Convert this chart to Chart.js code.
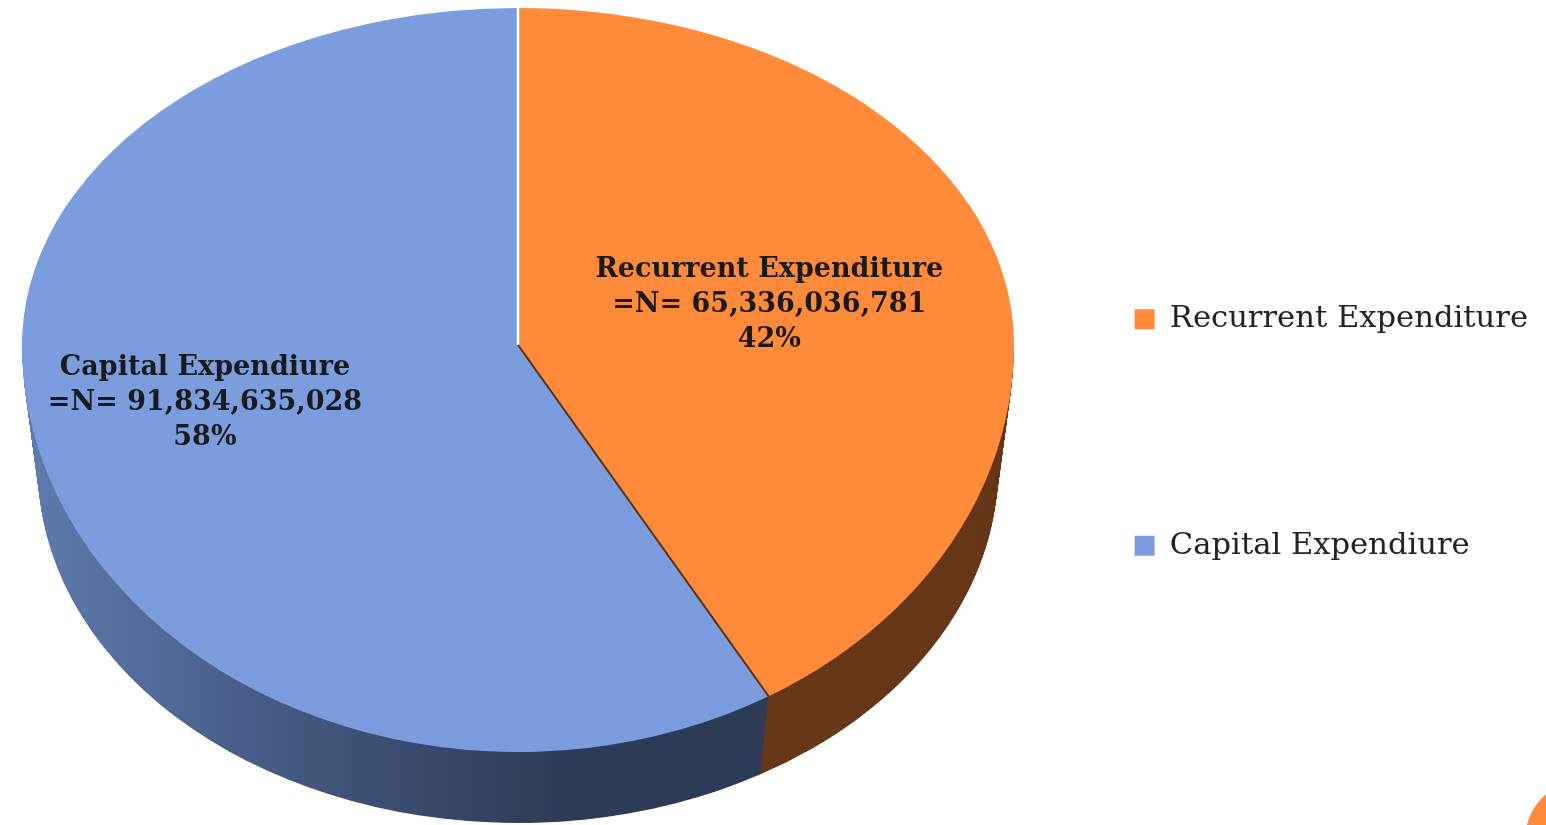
<!DOCTYPE html>
<html>
<head>
<meta charset="utf-8">
<script src="https://cdn.jsdelivr.net/npm/chart.js@4.4.1/dist/chart.umd.min.js"></script>
<style>
  html, body { margin: 0; padding: 0; background: #ffffff; overflow: hidden; }
  #wrap { width: 1546px; height: 825px; }
</style>
</head>
<body>
<div id="wrap"><canvas id="c" width="1546" height="825"></canvas></div>
<script>
// Expenditure split (Naira)
const categories = ['Recurrent Expenditure', 'Capital Expendiure'];
const amounts = [65336036781, 91834635028];
const faceColors = ['#fe8a3a', '#7b9cdd'];

// Derived label text
const total = amounts.reduce((a, b) => a + b, 0);
const amountText = amounts.map(v => '=N= ' + v.toLocaleString('en-US'));
const percentText = amounts.map(v => Math.round(v / total * 100) + '%');

// Tilted-disc geometry for the 3D look
const disc = {
  cx: 518, cy: 345,          // apex of the slices
  rx: 496,                   // horizontal radius of the top face
  ryBack: 337, ryFront: 407, // far / near half heights of the top face
  base: { cy: 468, rx: 480, ry: 355 }, // bottom rim ellipse
  layers: 100
};
const lerp = (a, b, t) => a + (b - a) * t;

function sideFill(ctx, k) {
  if (k === 0) return '#67381a';
  const g = ctx.createLinearGradient(22, 0, 560, 0);
  g.addColorStop(0, '#5f7caf');
  g.addColorStop(0.5, '#44587f');
  g.addColorStop(1, '#2e3b57');
  return g;
}

const pie3dPlugin = {
  id: 'pie3d',
  beforeDatasetsDraw(chart) {
    const ctx = chart.ctx;
    const W = chart.width, H = chart.height;
    const arcs = chart.getDatasetMeta(0).data;
    const fills = arcs.map((_, k) => sideFill(ctx, k));

    // walls: stacked rim slices from the bottom up
    for (let i = disc.layers; i >= 1; i--) {
      const t = i / disc.layers;
      const cy = lerp(disc.cy, disc.base.cy, t);
      const rx = lerp(disc.rx, disc.base.rx, t);
      const ry = lerp(disc.ryFront, disc.base.ry, t);
      ctx.save();
      ctx.beginPath();
      ctx.rect(0, cy, W, H - cy);
      ctx.clip();
      arcs.forEach((arc, k) => {
        const { startAngle, endAngle } = arc.getProps(['startAngle', 'endAngle'], true);
        ctx.beginPath();
        ctx.moveTo(disc.cx, cy);
        ctx.ellipse(disc.cx, cy, rx, ry, 0, startAngle, endAngle);
        ctx.closePath();
        ctx.fillStyle = fills[k];
        ctx.fill();
      });
      ctx.restore();
    }

    // top face: the library's arcs, squashed into far and near halves
    const a0 = arcs[0];
    const R = a0.outerRadius;
    [[0, disc.cy, disc.ryBack], [disc.cy, H, disc.ryFront]].forEach(([y0, y1, ry]) => {
      ctx.save();
      ctx.beginPath();
      ctx.rect(0, y0, W, y1 - y0);
      ctx.clip();
      ctx.translate(disc.cx, disc.cy);
      ctx.scale(disc.rx / R, ry / R);
      ctx.translate(-a0.x, -a0.y);
      arcs.forEach(a => a.draw(ctx));
      ctx.restore();
    });

    // slice edges on the top face
    arcs.forEach(arc => {
      const a = arc.startAngle;
      const s = Math.sin(a);
      const ex = disc.cx + disc.rx * Math.cos(a);
      const ey = disc.cy + (s < 0 ? disc.ryBack : disc.ryFront) * s;
      ctx.save();
      ctx.beginPath();
      ctx.moveTo(disc.cx, disc.cy);
      ctx.lineTo(ex, ey);
      ctx.lineWidth = s > 0 ? 2 : 2.5;
      ctx.strokeStyle = s > 0 ? '#5a3012' : '#ffffff';
      ctx.stroke();
      ctx.restore();
    });
    return false;
  },
  afterDraw(chart, args, opts) {
    const ctx = chart.ctx;
    const arcs = chart.getDatasetMeta(0).data;
    ctx.save();
    ctx.font = "bold 27px 'DejaVu Serif'";
    ctx.fillStyle = '#1a1a1a';
    ctx.textAlign = 'center';
    ctx.textBaseline = 'middle';
    arcs.forEach((arc, k) => {
      const mid = (arc.startAngle + arc.endAngle) / 2;
      const f = opts.labelRadius[k];
      const s = Math.sin(mid);
      const x = disc.cx + disc.rx * f * Math.cos(mid);
      const y = disc.cy + (s < 0 ? disc.ryBack : disc.ryFront) * f * s + opts.labelShift[k];
      const lines = [categories[k], amountText[k], percentText[k]];
      lines.forEach((txt, j) => ctx.fillText(txt, x, y + (j - 1) * 35));
    });
    ctx.restore();

    // slide accent in the corner
    ctx.save();
    ctx.beginPath();
    ctx.arc(1585, 840, 60, 0, Math.PI * 2);
    ctx.fillStyle = '#fe8a3a';
    ctx.fill();
    ctx.restore();
  }
};

new Chart(document.getElementById('c'), {
  type: 'pie',
  data: {
    labels: categories,
    datasets: [{
      data: amounts,
      backgroundColor: faceColors,
      borderWidth: 0
    }]
  },
  options: {
    responsive: false,
    devicePixelRatio: 1,
    animation: false,
    events: [],
    layout: { padding: { top: 40, right: 8 } },
    plugins: {
      tooltip: { enabled: false },
      legend: {
        position: 'right',
        align: 'center',
        labels: {
          boxWidth: 20,
          boxHeight: 20,
          padding: 196,
          color: '#22222c',
          font: { family: "'DejaVu Serif'", size: 30.6 }
        }
      },
      pie3d: {
        labelRadius: [0.525, 0.654],
        labelShift: [6, -12]
      }
    }
  },
  plugins: [pie3dPlugin]
});
</script>
</body>
</html>
